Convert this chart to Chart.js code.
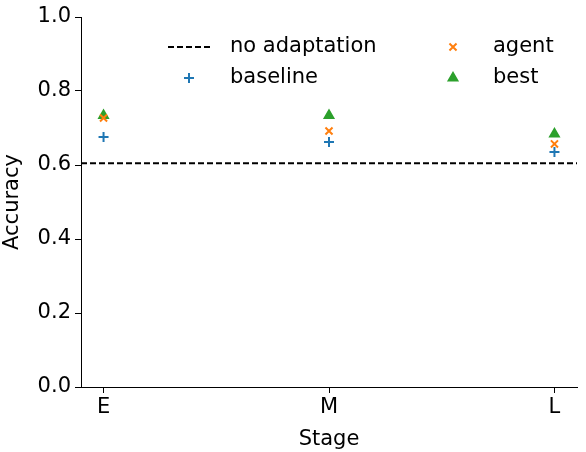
<!DOCTYPE html>
<html>
<head>
<meta charset="utf-8">
<script src="https://cdn.jsdelivr.net/npm/chart.js@4"></script>
<style>
  html, body { margin: 0; padding: 0; background: white; }
  #wrap { width: 586px; height: 452px; }
</style>
</head>
<body>
<div id="wrap"><canvas id="c" width="586" height="452"></canvas></div>
<script>
const stages = ["E", "M", "L"];
const baseline = [0.676, 0.662, 0.635];
const agent = [0.727, 0.692, 0.657];
const best = [0.734, 0.734, 0.684];
const noAdaptation = 0.605;
const yTicks = [0, 0.2, 0.4, 0.6, 0.8, 1.0];

const FONT = "'DejaVu Sans', sans-serif";
const FS = 21;

function pts(vals) {
    return vals.map((v, i) => ({x: i, y: v}));
}

// legend in two columns, drawn on the canvas like matplotlib does
const legendPlugin = {
    id: "legend2col",
    afterDraw(chart) {
        const ctx = chart.ctx;
        const items = [
            {label: "no adaptation", line: true, x: 168, y: 47},
            {label: "agent", style: "crossRot", color: "#ff7f0e", x: 453, y: 47},
            {label: "baseline", style: "cross", color: "#1f77b4", x: 189, y: 78},
            {label: "best", style: "triangle", color: "#2ca02c", x: 453, y: 78},
        ];
        ctx.save();
        ctx.font = FS + "px " + FONT;
        ctx.textBaseline = "middle";
        ctx.fillStyle = "black";
        items.forEach(it => {
            if (it.line) {
                ctx.strokeStyle = "black";
                ctx.lineWidth = 2;
                ctx.setLineDash([6, 3]);
                ctx.beginPath();
                ctx.moveTo(it.x, it.y);
                ctx.lineTo(it.x + 44, it.y);
                ctx.stroke();
                ctx.setLineDash([]);
                ctx.fillText(it.label, 230, it.y);
            } else {
                ctx.strokeStyle = it.color;
                ctx.fillStyle = it.color;
                ctx.lineWidth = 2;
                Chart.helpers.drawPoint(ctx, {pointStyle: it.style, radius: 5, borderWidth: 2}, it.x, it.y);
                ctx.fillStyle = "black";
                ctx.fillText(it.label, it.x === 453 ? 493 : 230, it.y);
            }
        });
        ctx.restore();
    }
};

const markerSet = (label, data, style, color) => ({
    label, data: pts(data), showLine: false,
    pointStyle: style, pointRadius: 5, pointBorderWidth: 2,
    borderColor: color, backgroundColor: color
});

new Chart("c", {
    type: "scatter",
    data: {
        datasets: [
            {label: "no adaptation", data: [{x: -0.1, y: noAdaptation}, {x: 2.1, y: noAdaptation}],
             showLine: true, borderColor: "black", borderWidth: 2, borderDash: [6, 3], pointRadius: 0},
            markerSet("baseline", baseline, "cross", "#1f77b4"),
            markerSet("agent", agent, "crossRot", "#ff7f0e"),
            markerSet("best", best, "triangle", "#2ca02c"),
        ]
    },
    plugins: [legendPlugin],
    options: {
        responsive: false,
        animation: false,
        layout: {padding: {top: 17, right: 9}},
        plugins: {legend: {display: false}, tooltip: {enabled: false}},
        scales: {
            x: {
                type: "linear", min: -0.1, max: 2.1,
                afterBuildTicks: s => { s.ticks = stages.map((_, i) => ({value: i})); },
                afterFit: s => { s.height = 65; },
                ticks: {callback: v => stages[v], color: "black", font: {size: FS, family: FONT}, maxRotation: 0, padding: 2},
                grid: {drawOnChartArea: false, tickLength: 6, color: "black"},
                border: {color: "black", width: 1},
                title: {display: true, text: "Stage", color: "black", font: {size: FS, family: FONT}, padding: 0}
            },
            y: {
                min: 0, max: 1,
                afterBuildTicks: s => { s.ticks = yTicks.map(v => ({value: v})); },
                afterFit: s => { s.width = 81; },
                ticks: {callback: v => v.toFixed(1), color: "black", font: {size: FS, family: FONT}, padding: 4},
                grid: {drawOnChartArea: false, tickLength: 6, color: "black"},
                border: {color: "black", width: 1},
                title: {display: true, text: "Accuracy", color: "black", font: {size: FS, family: FONT}, padding: 0}
            }
        }
    }
});
</script>
</body>
</html>
